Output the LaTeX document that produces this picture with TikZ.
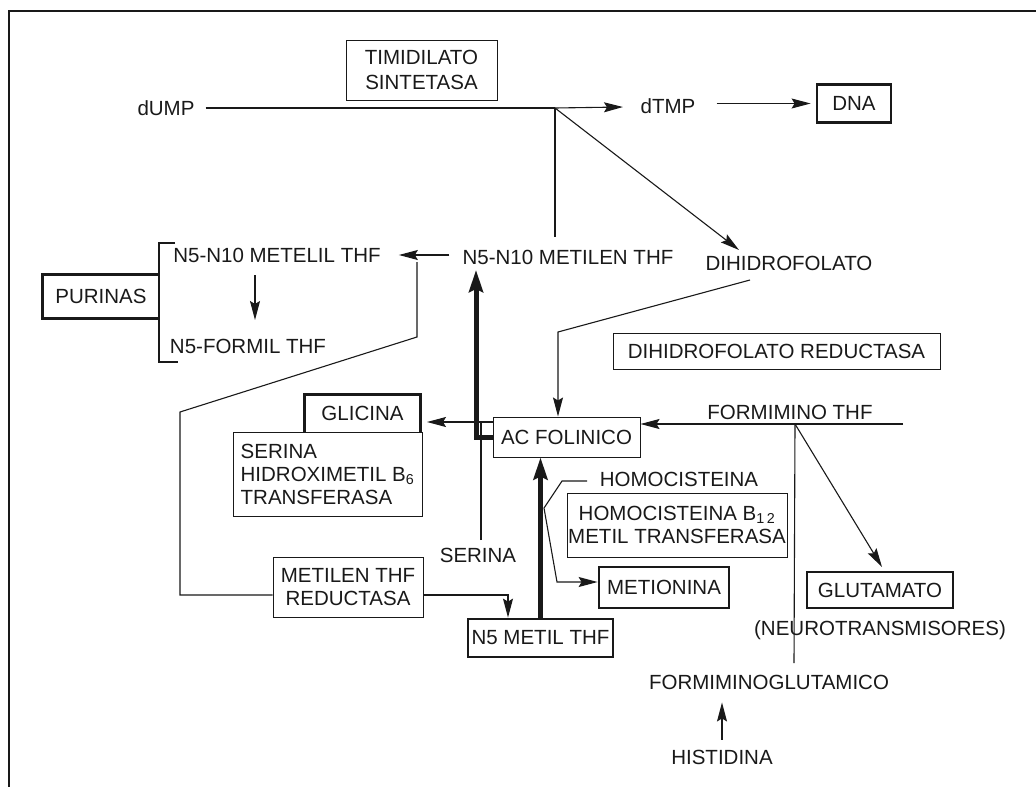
\documentclass[tikz,border=0pt]{standalone}
\usepackage{fontspec}
\setmainfont{Liberation Sans}
\usetikzlibrary{arrows.meta}
\definecolor{ink}{RGB}{25,25,25}
\begin{document}
\begin{tikzpicture}[x=1pt,y=-1pt,
  lbl/.style={font=\fontsize{20.5}{23}\selectfont, inner sep=0pt, align=center, text=ink},
  bx/.style={lbl, draw=ink, line width=1pt},
  tbx/.style={lbl, draw=ink, line width=2.8pt},
  tk/.style={draw=ink, line width=2.8pt},
  ln/.style={draw=ink, line width=1.1pt},
  arr/.style={ln, -{Stealth[length=19pt,width=10pt,inset=3pt]}},
  tarr/.style={draw=ink, line width=5pt, -{Stealth[length=22pt,width=14pt,inset=3pt]}}]
\useasboundingbox (0,0) rectangle (1036,787);
% frame
\draw[ln] (9,787) -- (9,11) -- (1036,11);

% nodes
\node[lbl] (dump) at (166,108) {dUMP};
\node[lbl] (dtmp) at (668,106) {dTMP};
\node[tbx, minimum width=74pt, minimum height=38pt] (dna) at (854,103.5) {DNA};
\node[bx, minimum width=151pt, minimum height=60pt, font=\fontsize{20.5}{25}\selectfont] (tim) at (421.5,70) {TIMIDILATO\\SINTETASA};
\node[lbl] (mlen) at (568,257) {N5-N10 METILEN THF};
\node[lbl] (dhf) at (789,263) {DIHIDROFOLATO};
\node[lbl] (mlil) at (277,255) {N5-N10 METELIL THF};
\node[lbl] (form) at (248,346) {N5-FORMIL THF};
\node[lbl, minimum width=116pt, minimum height=43pt] (pur) at (101,296.5) {PURINAS};
\node[bx, minimum width=327pt, minimum height=36pt] (dhfr) at (776.5,351) {DIHIDROFOLATO REDUCTASA};
\node[lbl, minimum width=115pt, minimum height=37pt] (gli) at (362.5,413.5) {GLICINA};
\node[bx, minimum width=189pt, minimum height=84pt, align=left] (shmt) at (327.5,474) {SERINA\\HIDROXIMETIL B\textsubscript{6}\\TRANSFERASA};
\node[bx, minimum width=147pt, minimum height=40pt] (acf) at (566.5,437) {AC FOLINICO};
\node[lbl] (fthf) at (790,412) {FORMIMINO THF};
\node[lbl] (hcy) at (679,479) {HOMOCISTEINA};
\node[bx, minimum width=220pt, minimum height=64pt] (ms) at (677,525) {HOMOCISTEINA B\textsubscript{1\,2}\\METIL TRANSFERASA};
\node[tbx, minimum width=130pt, minimum height=41pt] (met) at (664,587.5) {METIONINA};
\node[tbx, minimum width=146pt, minimum height=36pt] (glu) at (880,590) {GLUTAMATO};
\node[lbl] (neu) at (880,630) {(NEUROTRANSMISORES)};
\node[lbl] (ser) at (478,555) {SERINA};
\node[bx, minimum width=150pt, minimum height=60pt] (mthfr) at (348,587) {METILEN THF\\REDUCTASA};
\node[tbx, minimum width=145pt, minimum height=38pt] (n5m) at (540.5,638) {N5 METIL THF};
\node[lbl] (figlu) at (769,682) {FORMIMINOGLUTAMICO};
\node[lbl] (his) at (722,757) {HISTIDINA};

% open thick boxes
\draw[tk] (pur.north east) -- (pur.north west) -- (pur.south west) -- (pur.south east);
\draw[tk] (gli.south west) -- (gli.north west) -- (gli.north east) -- (gli.south east);
% bracket
\coordinate (bk1) at (175,243);
\coordinate (bk2) at (159,243);
\coordinate (bk3) at (159,362);
\coordinate (bk4) at (178,362);
\draw[ln] (bk1) -- (bk2) -- (bk3) -- (bk4);

% coordinates
\coordinate (br1) at (555,108);
\coordinate (v1) at (555,237);
\coordinate (t1) at (623,107);
\coordinate (dhtip) at (739,250);
\coordinate (p1) at (417,262);
\coordinate (p2) at (417,337);
\coordinate (p3) at (180,412);
\coordinate (q1) at (750,280);
\coordinate (q2) at (558,332);
\coordinate (k1) at (476,437);
\coordinate (k2) at (476,270);
\coordinate (g1) at (427,422);
\coordinate (s1) at (481,540);
\coordinate (s2) at (481,422);
\coordinate (h1) at (587,481);
\coordinate (h2) at (562,481);
\coordinate (h3) at (544,508);
\coordinate (h4) at (557,582);
\coordinate (f1) at (903,424);
\coordinate (f2) at (795,424);
\coordinate (f3) at (794,663);
\coordinate (f4) at (882,567);
\coordinate (m1) at (255,275);
\coordinate (m2) at (255,320);

% connectors
\draw[ln] ([xshift=11pt]dump.east) -- (br1);
\draw[arr] (br1) -- (t1);
\draw[arr] ([xshift=21pt]dtmp.east |- dna.west) -- ([xshift=-5pt]dna.west);
\draw[ln] (br1) -- (v1);
\draw[arr] (br1) -- (dhtip);
\draw[arr] ([xshift=-13pt]mlen.west |- mlil.east) -- ([xshift=18pt]mlil.east);
\draw[arr] (m1) -- (m2);
\draw[ln] (p1) -- (p2) -- (p3) |- ([yshift=-8pt]mthfr.west);
\draw[arr] ([yshift=-8pt]mthfr.east) -| ([xshift=-32.5pt]n5m.north);
\draw[arr] (q1) -- (q2) -- (q2 |- acf.north);
\draw[arr] ([yshift=15pt]acf.west) -- (g1);
\draw[ln] (s1) -- (s2);
\draw[tarr] (acf.west) -- (k1) -- (k2);
\draw[tarr] (n5m.north) -- (n5m.north |- acf.south);
\draw[arr] (h1) -- (h2) -- (h3) -- (h4) -- (h4 -| met.west);
\draw[arr] (f1) -- (f1 -| acf.east);
\draw[ln] (f2) -- (f3);
\draw[arr] (f2) -- (f4);
\draw[arr] ([yshift=10pt]his.north) -- ([yshift=-13pt]figlu.south -| his.north);
\end{tikzpicture}
\end{document}
